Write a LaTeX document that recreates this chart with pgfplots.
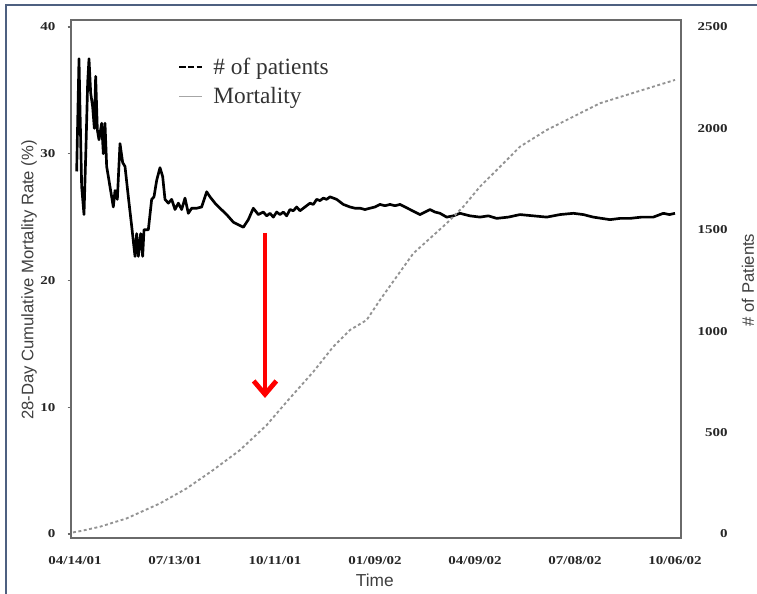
\documentclass[border=0pt]{standalone}
\usepackage{pgfplots}
\pgfplotsset{compat=1.18}
\usepackage{pgfplotstable}
\usepackage{fontspec}
\setmainfont{Liberation Serif}
\newfontfamily\sansf{Liberation Sans}
\newfontfamily\tickf[FakeStretch=1.25]{Liberation Serif}
\usetikzlibrary{arrows.meta}
\definecolor{framec}{HTML}{4E6080}
\definecolor{axc}{HTML}{6A6A6A}

\pgfplotstableread{
day mort
1.5 28.6
3.6 37.5
4.5 33.5
6.0 27.4
8.1 25.2
9.9 30.6
11.4 35.6
12.6 37.5
14.1 34.8
15.9 33.7
17.4 32.0
18.6 36.1
20.1 31.9
21.6 31.1
24.0 32.4
25.5 30.0
27.0 32.4
28.5 29.0
31.5 27.4
34.5 25.8
36.0 27.1
38.1 26.4
40.5 30.8
42.9 29.3
45.0 29.0
48.0 26.6
51.0 24.3
54.0 21.9
55.5 23.7
57.0 21.9
59.1 23.7
60.9 21.9
62.1 24.0
66.0 24.0
69.0 26.4
71.1 26.6
73.5 27.9
76.5 28.9
78.9 28.2
81.0 26.4
84.0 26.1
87.0 26.4
90.0 25.6
93.0 26.1
96.0 25.6
99.0 26.5
102.0 25.3
105.0 25.7
109.5 25.7
114.0 25.8
118.5 27.0
121.5 26.6
126.0 26.1
130.5 25.7
136.5 25.2
142.5 24.6
147.0 24.4
151.5 24.2
156.0 24.8
160.5 25.7
165.0 25.2
169.5 25.4
172.5 25.1
175.5 25.3
178.5 25.0
181.5 25.4
184.5 25.2
187.5 25.4
190.5 25.1
193.5 25.6
196.5 25.5
199.5 25.8
202.5 25.5
205.5 25.7
208.5 25.9
211.5 26.1
214.5 26.0
217.5 26.4
220.5 26.3
223.5 26.5
226.5 26.4
229.5 26.6
232.5 26.5
235.5 26.4
238.5 26.2
241.5 26.0
244.5 25.9
247.5 25.8
252.0 25.7
256.5 25.7
261.0 25.6
265.5 25.7
270.0 25.8
274.5 26.0
279.0 25.9
283.5 26.0
288.0 25.9
292.5 26.0
297.0 25.8
301.5 25.6
306.0 25.4
310.5 25.2
315.0 25.4
319.5 25.6
324.0 25.4
328.5 25.3
334.5 25.0
340.5 25.1
346.5 25.3
355.5 25.1
364.5 25.0
372.0 25.1
379.5 24.9
390.0 25.0
400.5 25.2
412.5 25.1
424.5 25.0
436.5 25.2
448.5 25.3
457.5 25.2
466.5 25.0
481.5 24.8
490.5 24.9
499.5 24.9
510.0 25.0
520.5 25.0
529.5 25.3
535.0 25.2
540.0 25.3
}\mort

\pgfplotstableread{
day n
-1.8 8
5.4 15
22.5 36
46.5 77
76.5 151
100.5 225
124.5 316
148.5 414
172.5 537
190.5 652
214.5 800
232.5 924
247.5 1006
262.5 1055
274.5 1154
304.5 1384
334.5 1532
349.5 1614
364.5 1713
382.5 1811
400.5 1910
424.5 1992
448.5 2058
472.5 2124
496.5 2165
520.5 2206
540.0 2239
}\pat

\begin{document}
\begin{tikzpicture}
\useasboundingbox[fill=white] (0,0) rectangle (567.75pt,-444.75pt);
\draw[framec, line width=1.6pt] (4.8pt,-446pt) -- (4.8pt,-3.9pt) -- (569pt,-3.9pt);
\begin{axis}[
  at={(53.25pt,-403.5pt)}, anchor=south west,
  scale only axis, width=457.5pt, height=388.5pt,
  xmin=-3.6, xmax=545.4, ymin=-0.316, ymax=40.55,
  xtick={0,90,180,270,360,450,540},
  xticklabels={04/14/01,07/13/01,10/11/01,01/09/02,04/09/02,07/08/02,10/06/02},
  ytick={0,10,20,30,40},
  xtick pos=bottom, ytick pos=left,
  xtick style={draw=none},
  ytick style={axc, line width=0.8pt},
  tick align=outside, major tick length=2.5pt,
  axis line style={axc, line width=1.7pt},
  /pgf/number format/assume math mode=true,
  xticklabel style={font=\tickf\bfseries\fontsize{9}{10}\selectfont, text=black!85, anchor=center, inner sep=0pt, yshift=-14.25pt},
  yticklabel style={font=\tickf\bfseries\fontsize{9}{10}\selectfont, text=black!85, anchor=east, inner sep=0pt, xshift=-9pt},
  ylabel={28-Day Cumulative Mortality Rate (\%)},
  ylabel style={font=\sansf\fontsize{12.5}{14}\selectfont, text=black!75, at={(axis description cs:-0.0689,0.498)}, anchor=center},
  xlabel={Time},
  xlabel style={font=\sansf\fontsize{13}{15}\selectfont, text=black!75, at={(axis description cs:0.498,-0.0811)}, anchor=center},
  legend style={at={(axis description cs:0.1754,0.933)}, anchor=north west, draw=none, fill=none,
    font=\fontsize{17.5}{20}\selectfont, text=black!80, row sep=4.5pt, inner sep=0pt,
    /tikz/every odd column/.append style={column sep=5.5pt}},
  legend cell align=left,
]
\addlegendimage{black, line width=1.8pt, dash pattern=on 4.6pt off 1.8pt}
\addlegendentry{\# of patients}
\addlegendimage{gray!70, line width=0.9pt}
\addlegendentry{Mortality}
\addplot[forget plot, black, line width=2pt, line join=round] table[x=day,y=mort] {\mort};
\draw[red, line width=3.6pt, -{Straight Barb[length=10pt,width=17pt]}] (axis cs:171,23.75) -- (axis cs:171,10.73);
\end{axis}
\begin{axis}[
  at={(53.25pt,-403.5pt)}, anchor=south west,
  scale only axis, width=457.5pt, height=388.5pt,
  xmin=-3.6, xmax=545.4, ymin=-19.7, ymax=2534.5,
  axis x line=none, axis y line*=right,
  y axis line style={draw=none},
  ytick={0,500,1000,1500,2000,2500},
  ytick style={draw=none},
  /pgf/number format/1000 sep={},
  /pgf/number format/assume math mode=true,
  yticklabel style={font=\tickf\bfseries\fontsize{9}{10}\selectfont, text=black!85, anchor=east, inner sep=0pt, xshift=35.25pt},
  ylabel={\# of Patients},
  ylabel style={font=\sansf\fontsize{12.5}{14}\selectfont, text=black!75, at={(axis description cs:1.1098,0.498)}, anchor=center, rotate=0},
]
\addplot[gray!85, line width=1.4pt, dash pattern=on 2.2pt off 1.9pt] table[x=day,y=n] {\pat};
\end{axis}
\end{tikzpicture}
\end{document}
